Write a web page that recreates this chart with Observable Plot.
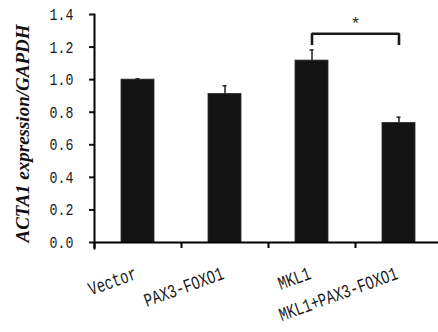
<!DOCTYPE html>
<html>
<head>
<meta charset="utf-8">
<script src="https://cdn.jsdelivr.net/npm/d3@7"></script>
<script src="https://cdn.jsdelivr.net/npm/@observablehq/plot@0.6"></script>
<style>
  html, body { margin: 0; padding: 0; background: white; }
</style>
</head>
<body>
<div id="chart"></div>
<script>
const categories = ["Vector", "PAX3-FOXO1", "MKL1", "MKL1+PAX3-FOXO1"];
const values = [1.00, 0.912, 1.117, 0.734];
const errors = [0.005, 0.05, 0.065, 0.035];
const yTicks = [0, 0.2, 0.4, 0.6, 0.8, 1.0, 1.2, 1.4];
const yLabel = "ACTA1 expression/GAPDH";
const bracketFrom = "MKL1";
const bracketTo = "MKL1+PAX3-FOXO1";
const bracketLow = 1.22;
const bracketHigh = 1.282;
const starLabel = "*";
const starValue = 1.345;

const data = categories.map((c, i) => ({cat: c, value: values[i], err: errors[i], top: values[i] + errors[i]}));
const bracket = [
  {x: bracketFrom, y: bracketLow},
  {x: bracketFrom, y: bracketHigh},
  {x: bracketTo, y: bracketHigh},
  {x: bracketTo, y: bracketLow}
];

const W = 438, H = 332;
const ML = 94, MT = 14, MB = 90;
const stepPx = 87;

const chart = Plot.plot({
  width: W,
  height: H,
  marginLeft: ML,
  marginRight: 0,
  marginTop: MT,
  marginBottom: MB,
  style: {fontFamily: "Liberation Mono", background: "white", color: "#111"},
  x: {domain: categories, range: [ML, ML + stepPx * categories.length], paddingInner: 0.62, paddingOuter: 0.31, axis: null},
  y: {domain: [0, 1.4], ticks: yTicks, tickFormat: d3.format(".1f"), label: null},
  marks: [
    Plot.barY(data, {x: "cat", y: "value", fill: "#141414", stroke: "#2a2a2a", strokeWidth: 0.8}),
    Plot.ruleX(data, {x: "cat", y1: "value", y2: "top", stroke: "#222", strokeWidth: 1.5}),
    Plot.tickY(data, {x: "cat", y: "top", stroke: "#222", strokeWidth: 1.5, insetLeft: 14.5, insetRight: 14.5}),
    Plot.line(bracket, {x: "x", y: "y", stroke: "#1a1a1a", strokeWidth: 2.6, strokeLinejoin: "miter", strokeLinecap: "square"}),
    Plot.text([starLabel], {x: () => bracketFrom, y: () => starValue, dx: stepPx / 2, text: d => d, fontSize: 17, fill: "#222", lineAnchor: "middle"}),
    Plot.axisY({ticks: yTicks, tickFormat: d3.format(".1f"), tickSize: 5, tickPadding: 16, strokeWidth: 2, fontSize: 17, fill: "#1a1a1a", label: null}),
    Plot.frame({anchor: "left", stroke: "#000", strokeWidth: 2, insetBottom: -6}),
    Plot.ruleY([0], {stroke: "#000", strokeWidth: 2}),
    Plot.ruleX(categories, {x: d => d, dx: -stepPx / 2, y1: 0, y2: -0.037, stroke: "#000", strokeWidth: 2}),
    Plot.text(categories, {x: d => d, y: () => 0, text: d => d, rotate: -20, textAnchor: "end", lineAnchor: "bottom", dy: 36, fontSize: 19, fill: "#1a1a1a"}),
    Plot.text([yLabel], {frameAnchor: "left", text: d => d, rotate: -90, textAnchor: "middle", dx: -72, dy: 5, fontSize: 19, fontWeight: "bold", fontStyle: "italic", fontFamily: "Liberation Serif", fill: "#111", lineAnchor: "middle"})
  ]
});

document.getElementById("chart").appendChild(chart);

// condense the monospace glyphs horizontally to mimic the narrow original font
function condense(sel, k) {
  sel.each(function () {
    const len = this.getComputedTextLength();
    if (len > 0) {
      this.setAttribute("textLength", (len * k).toFixed(2));
      this.setAttribute("lengthAdjust", "spacingAndGlyphs");
    }
  });
}
condense(d3.select(chart).selectAll("g[aria-label='y-axis tick label'] text"), 0.78);
condense(d3.select(chart).selectAll("text").filter(function () {
  return (this.getAttribute("transform") || "").includes("rotate(-20)");
}), 0.73);
</script>
</body>
</html>
